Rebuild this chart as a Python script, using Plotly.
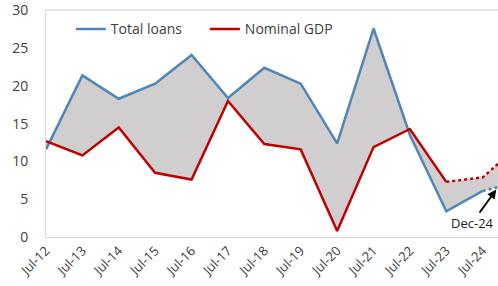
import plotly.graph_objects as go

dates = ["2012-07-01", "2013-07-01", "2014-07-01", "2015-07-01", "2016-07-01",
         "2017-07-01", "2018-07-01", "2019-07-01", "2020-07-01", "2021-07-01",
         "2022-07-01", "2023-07-01", "2024-07-01", "2024-12-01"]
total_loans = [11.6, 21.4, 18.3, 20.3, 24.1, 18.4, 22.4, 20.3, 12.4, 27.6, 13.5, 3.4, 6.1, 6.6]
nominal_gdp = [12.7, 10.8, 14.5, 8.5, 7.6, 18.0, 12.3, 11.6, 0.8, 11.9, 14.3, 7.3, 7.9, 9.7]
y_ticks = [0, 5, 10, 15, 20, 25, 30]
annot_label = "Dec-24"

BLUE = "#4f86b8"
RED = "#c00000"
FILL = "#d0cece"
TXT = "#404040"
FONT = "Open Sans"

fig = go.Figure()
# shaded band between the two series
fig.add_trace(go.Scatter(x=dates, y=nominal_gdp, mode="lines", line=dict(width=0),
                         showlegend=False, hoverinfo="skip"))
fig.add_trace(go.Scatter(x=dates, y=total_loans, mode="lines", line=dict(width=0),
                         fill="tonexty", fillcolor=FILL, showlegend=False, hoverinfo="skip"))
# solid parts
fig.add_trace(go.Scatter(x=dates[:13], y=total_loans[:13], mode="lines", name="Total loans",
                         line=dict(color=BLUE, width=2.5)))
fig.add_trace(go.Scatter(x=dates[:12], y=nominal_gdp[:12], mode="lines", name="Nominal GDP",
                         line=dict(color=RED, width=2.5)))
# dotted (estimated) parts
fig.add_trace(go.Scatter(x=dates[12:], y=total_loans[12:], mode="lines", showlegend=False,
                         line=dict(color=BLUE, width=2.5, dash="dot")))
fig.add_trace(go.Scatter(x=dates[11:], y=nominal_gdp[11:], mode="lines", showlegend=False,
                         line=dict(color=RED, width=2.5, dash="dot")))

fig.add_annotation(x=dates[-1], y=total_loans[-1], xref="x", yref="y",
                   text=annot_label, showarrow=True, arrowhead=2, arrowsize=1,
                   arrowwidth=1.8, arrowcolor="black", ax=-26, ay=36, standoff=3,
                   font=dict(family=FONT, size=13, color="#222222"))

# thin frame line along the top of the plot area
fig.add_shape(type="line", xref="paper", yref="paper", x0=0, x1=1, y0=1, y1=1,
              line=dict(color="#d9d9d9", width=1.5))

fig.update_layout(
    width=498, height=286,
    margin=dict(l=46, r=0, t=8, b=49),
    paper_bgcolor="white", plot_bgcolor="white",
    font=dict(family=FONT, size=13, color=TXT),
    showlegend=True,
    legend=dict(orientation="h", x=0.055, y=0.985, xanchor="left", yanchor="top",
                traceorder="normal",
                bgcolor="rgba(0,0,0,0)", font=dict(size=14, color=TXT),
                entrywidth=89, entrywidthmode="pixels", itemwidth=30),
)
fig.update_xaxes(type="date", range=[dates[0], dates[-1]], tick0=dates[0], dtick="M12",
                 tickformat="%b-%y", tickangle=-45, showgrid=False, zeroline=False,
                 showline=True, linecolor="#d9d9d9", linewidth=1,
                 ticks="", tickfont=dict(size=13, color=TXT), ticklabeloverflow="allow")
fig.update_yaxes(range=[0, 30.05], tickvals=y_ticks, showgrid=False, zeroline=False,
                 showline=True, linecolor="#d9d9d9", linewidth=1, ticks="",
                 ticklabelstandoff=14, tickfont=dict(size=14, color=TXT),
                 ticklabeloverflow="allow")

fig.write_html("out.html", config={"displayModeBar": False},
               post_script="document.body.style.margin='0px';")
